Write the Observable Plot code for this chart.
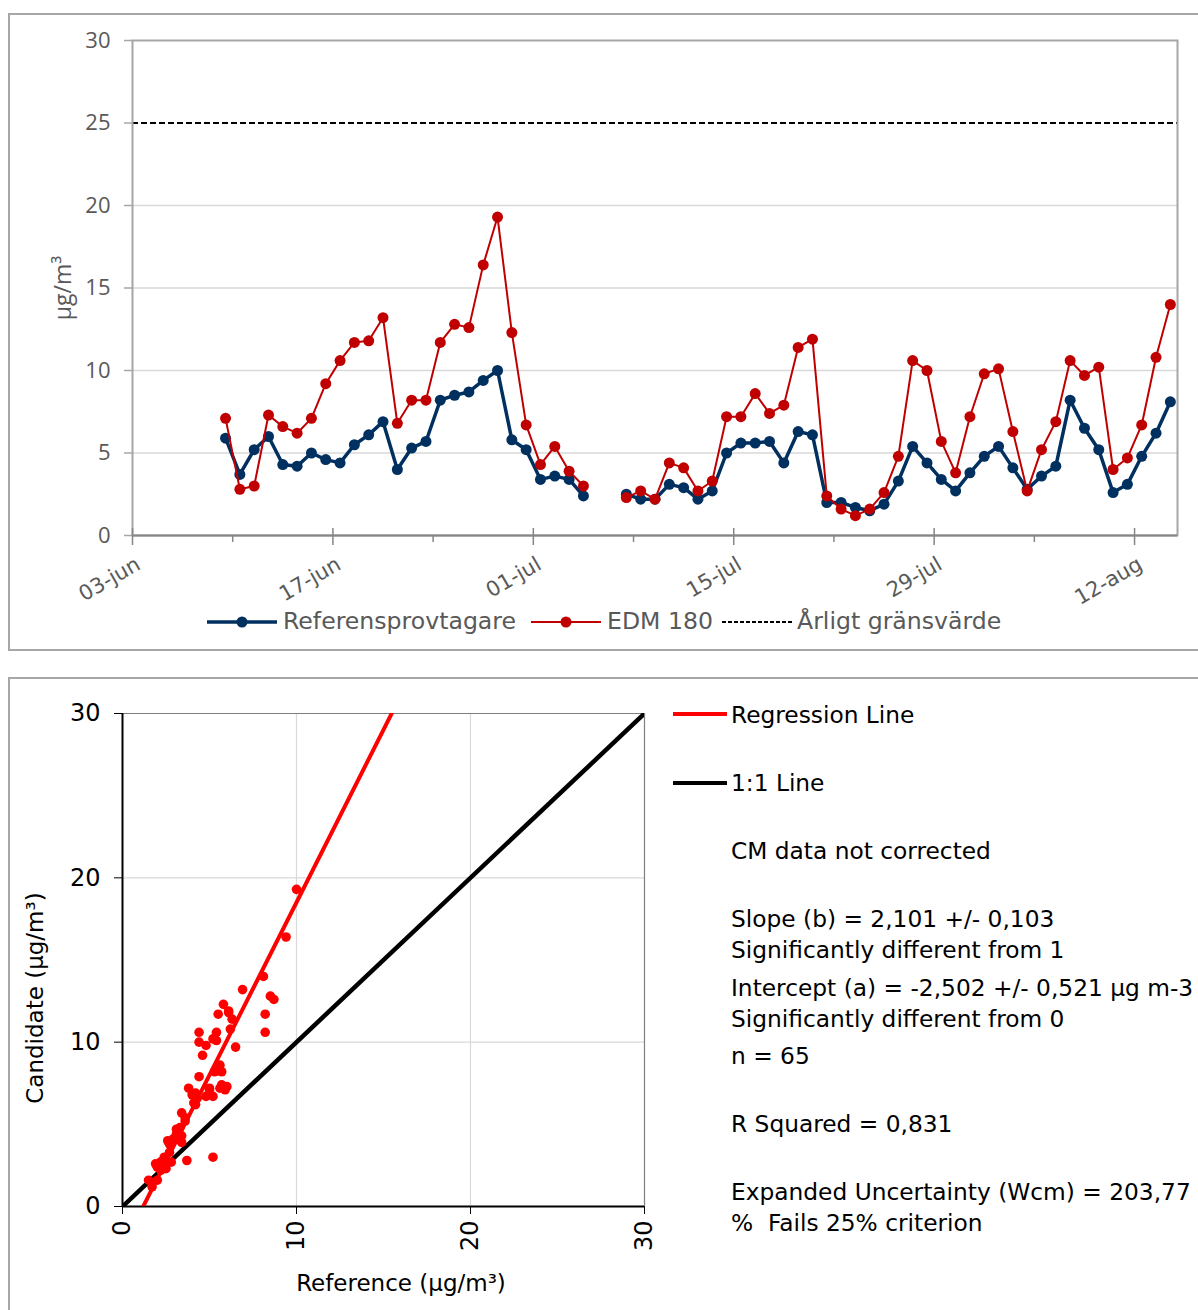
<!DOCTYPE html>
<html><head><meta charset="utf-8">
<script src="https://cdn.jsdelivr.net/npm/d3@7"></script>
<script src="https://cdn.jsdelivr.net/npm/@observablehq/plot@0.6"></script>
<style>
body{margin:0;background:#fff;}
#wrap{position:relative;width:1198px;height:1310px;overflow:hidden;background:#fff;}
.frame{position:absolute;border:2px solid #a6a6a6;box-sizing:border-box;}
.abs{position:absolute;white-space:pre;line-height:1;}
svg.sw{position:absolute;overflow:visible;}
</style></head><body><div id="wrap"></div>
<script>
// ---------- DATA ----------
const dates = [
 "2019-06-09","2019-06-10","2019-06-11","2019-06-12","2019-06-13","2019-06-14","2019-06-15","2019-06-16","2019-06-17","2019-06-18",
 "2019-06-19","2019-06-20","2019-06-21","2019-06-22","2019-06-23","2019-06-24","2019-06-25","2019-06-26","2019-06-27","2019-06-28",
 "2019-06-29","2019-06-30","2019-07-01","2019-07-02","2019-07-03","2019-07-04",
 "2019-07-07","2019-07-08","2019-07-09","2019-07-10","2019-07-11","2019-07-12","2019-07-13","2019-07-14","2019-07-15","2019-07-16",
 "2019-07-17","2019-07-18","2019-07-19","2019-07-20","2019-07-21","2019-07-22","2019-07-23","2019-07-24","2019-07-25","2019-07-26",
 "2019-07-27","2019-07-28","2019-07-29","2019-07-30","2019-07-31","2019-08-01","2019-08-02","2019-08-03","2019-08-04","2019-08-05",
 "2019-08-06","2019-08-07","2019-08-08","2019-08-09","2019-08-10","2019-08-11","2019-08-12","2019-08-13","2019-08-14"
];
const referens = [
 5.9,3.7,5.2,6.0,4.3,4.2,5.0,4.6,4.4,5.5,6.1,6.9,4.0,5.3,5.7,8.2,8.5,8.7,9.4,10.0,5.8,5.2,3.4,3.6,3.4,2.4,
 2.5,2.2,2.2,3.1,2.9,2.2,2.7,5.0,5.6,5.6,5.7,4.4,6.3,6.1,2.0,2.0,1.7,1.5,1.9,3.3,5.4,4.4,3.4,2.7,3.8,4.8,5.4,4.1,2.8,3.6,4.2,8.2,6.5,5.2,2.6,3.1,4.8,6.2,8.1
];
const edm180 = [
 7.1,2.8,3.0,7.3,6.6,6.2,7.1,9.2,10.6,11.7,11.8,13.2,6.8,8.2,8.2,11.7,12.8,12.6,16.4,19.3,12.3,6.7,4.3,5.4,3.9,3.0,
 2.3,2.7,2.2,4.4,4.1,2.7,3.3,7.2,7.2,8.6,7.4,7.9,11.4,11.9,2.4,1.6,1.2,1.6,2.6,4.8,10.6,10.0,5.7,3.8,7.2,9.8,10.1,6.3,2.7,5.2,6.9,10.6,9.7,10.2,4.0,4.7,6.7,10.8,14.0
];
const limitValue = 25;
const axisStart = "2019-06-03", axisEnd = "2019-08-15";
const majorTickDates = ["2019-06-03","2019-06-17","2019-07-01","2019-07-15","2019-07-29","2019-08-12"];
const majorTickLabels = ["03-jun","17-jun","01-jul","15-jul","29-jul","12-aug"];
const minorTickDates = ["2019-06-10","2019-06-24","2019-07-08","2019-07-22","2019-08-05"];
const yTicksTop = [0,5,10,15,20,25,30];
const gridTop = [5,10,15,20];
const seriesNames = ["Referensprovtagare","EDM 180","Årligt gränsvärde"];
const yLabelTop = "µg/m³";

const slope = 2.101, intercept = -2.502;
const scatterTicks = [0,10,20,30];
const scatterGrid = [10,20];
const scatterMax = 30;
const scatterLegend = ["Regression Line","1:1 Line"];
const statsLines = [
 "CM data not corrected",
 "Slope (b) = 2,101 +/- 0,103",
 "Significantly different from 1",
 "Intercept (a) = -2,502 +/- 0,521 µg m-3",
 "Significantly different from 0",
 "n = 65",
 "R Squared = 0,831",
 "Expanded Uncertainty (Wcm) = 203,77",
 "%  Fails 25% criterion"
];
const xLabelBottom = "Reference (µg/m³)", yLabelBottom = "Candidate (µg/m³)";

// ---------- BUILD ----------
const BLUE = "#00305f", RED = "#c00000", GREY_TXT = "#595959";
const parse = d3.utcParse("%Y-%m-%d");
const rows = dates.map((d,i)=>({date: new Date(parse(d).getTime()+12*3600e3), ref: referens[i], edm: edm180[i]}));
let seg = 0;
rows.forEach((r,i)=>{ if(i>0 && (r.date - rows[i-1].date) > 1.5*864e5) seg++; r.seg = seg; });
const majorTicks = majorTickDates.map(parse);
const minorTicks = minorTickDates.map(parse);
const labelMap = new Map(majorTicks.map((d,i)=>[+d, majorTickLabels[i]]));

const wrap = document.getElementById("wrap");
function addDiv(cls, css, text){ const e=document.createElement("div"); e.className=cls; Object.assign(e.style, css); if(text!=null) e.textContent=text; wrap.appendChild(e); return e; }

// frames
addDiv("frame", {left:"8px", top:"13px", width:"1200px", height:"638px"});
addDiv("frame", {left:"8px", top:"677px", width:"1200px", height:"700px"});

const topChart = Plot.plot({
  width: 1198, height: 610,
  marginLeft: 132, marginRight: 21, marginTop: 40, marginBottom: 75,
  style: {fontFamily: "DejaVu Sans", background: "transparent", overflow: "visible"},
  x: {type: "utc", domain: [parse(axisStart), parse(axisEnd)]},
  y: {domain: [0, 30]},
  marks: [
    Plot.ruleY(gridTop, {stroke: "#d9d9d9", strokeWidth: 1.5}),
    Plot.ruleY([limitValue], {stroke: "#000", strokeWidth: 2.2, strokeDasharray: "6,3"}),
    Plot.frame({stroke: "#a6a6a6", strokeWidth: 2}),
    Plot.axisY({ticks: yTicksTop, tickSize: 8, tickPadding: 14, fontSize: 22, fill: GREY_TXT, stroke: "#a6a6a6", strokeWidth: 1.5, fontFamily: "Open Sans", label: null}),
    Plot.axisX({ticks: majorTicks, tickFormat: d => labelMap.get(+d), tickRotate: -30, tickSize: 0, tickPadding: 24, dx: 6, dy: 3, fontSize: 21, fill: GREY_TXT, label: null}),
    Plot.axisX({ticks: majorTicks, tickFormat: () => "", tickSize: 10, stroke: "#868686", strokeWidth: 1.5, label: null}),
    Plot.axisX({ticks: majorTicks, tickFormat: () => "", tickSize: -7, stroke: "#868686", strokeWidth: 1.5, label: null}),
    Plot.axisX({ticks: minorTicks, tickFormat: () => "", tickSize: 7, stroke: "#868686", strokeWidth: 1.5, label: null}),
    Plot.ruleY([0], {stroke: "#868686", strokeWidth: 2}),
    Plot.line(rows, {x: "date", y: "ref", z: "seg", stroke: BLUE, strokeWidth: 3.5}),
    Plot.dot(rows, {x: "date", y: "ref", r: 5.5, fill: BLUE}),
    Plot.line(rows, {x: "date", y: "edm", z: "seg", stroke: RED, strokeWidth: 2}),
    Plot.dot(rows, {x: "date", y: "edm", r: 5.5, fill: RED})
  ]
});
Object.assign(topChart.style, {position: "absolute", left: "0px", top: "0px"});
wrap.appendChild(topChart);

// top y label
addDiv("abs", {left:"62px", top:"288px", transform:"translate(-50%,-50%) rotate(-90deg)", fontFamily:"Open Sans", fontSize:"23px", color:GREY_TXT}, yLabelTop);

// top legend
function swatch(x1, x2, y, color, width, dash, dot){
  const ns="http://www.w3.org/2000/svg";
  const s=document.createElementNS(ns,"svg"); s.setAttribute("class","sw");
  s.setAttribute("width", x2-x1+12); s.setAttribute("height", 20);
  s.style.left=(x1-6)+"px"; s.style.top=(y-10)+"px";
  const l=document.createElementNS(ns,"line");
  l.setAttribute("x1",6); l.setAttribute("x2",x2-x1+6); l.setAttribute("y1",10); l.setAttribute("y2",10);
  l.setAttribute("stroke",color); l.setAttribute("stroke-width",width);
  if(dash) l.setAttribute("stroke-dasharray",dash);
  s.appendChild(l);
  if(dot){ const c=document.createElementNS(ns,"circle"); c.setAttribute("cx",(x2-x1)/2+6); c.setAttribute("cy",10); c.setAttribute("r",5.5); c.setAttribute("fill",color); s.appendChild(c); }
  wrap.appendChild(s);
}
const legY = 622;
swatch(207, 277, legY, BLUE, 3.5, null, true);
swatch(531, 601, legY, RED, 2, null, true);
swatch(722, 792, legY, "#000", 2, "4,2", false);
[[283, seriesNames[0]],[607, seriesNames[1]],[797, seriesNames[2]]].forEach(([x,t])=>{
  addDiv("abs", {left:x+"px", top:legY+"px", transform:"translateY(-50%)", fontFamily:"DejaVu Sans", fontSize:"23.6px", color:GREY_TXT}, t);
});

// ---------- scatter ----------
const one2one = [0, scatterMax].map(v => ({x: v, y: v}));
const regLine = [0, scatterMax].map(v => ({x: v, y: intercept + slope * v}));
const bottomChart = Plot.plot({
  width: 700, height: 632,
  marginLeft: 122, marginRight: 56, marginTop: 35, marginBottom: 104,
  style: {fontFamily: "DejaVu Sans", background: "transparent", overflow: "visible"},
  x: {domain: [0, scatterMax]},
  y: {domain: [0, scatterMax]},
  marks: [
    Plot.ruleX(scatterGrid, {stroke: "#d9d9d9", strokeWidth: 1.2}),
    Plot.ruleY(scatterGrid, {stroke: "#d9d9d9", strokeWidth: 1.2}),
    Plot.ruleX([scatterMax], {stroke: "#7f7f7f", strokeWidth: 1.2}),
    Plot.ruleY([scatterMax], {stroke: "#7f7f7f", strokeWidth: 1.2}),
    Plot.axisY({ticks: scatterTicks, tickSize: 8, tickPadding: 14, fontSize: 24, fill: "#000", stroke: "#000", label: null}),
    Plot.axisX({ticks: scatterTicks, tickSize: 8, tickPadding: 6, tickRotate: -90, fontSize: 24, fill: "#000", stroke: "#000", label: null}),
    Plot.ruleX([0], {stroke: "#000", strokeWidth: 2}),
    Plot.ruleY([0], {stroke: "#000", strokeWidth: 2}),
    Plot.line(one2one, {x: "x", y: "y", stroke: "#000", strokeWidth: 4.5, clip: true}),
    Plot.dot(rows, {x: "ref", y: "edm", r: 4.8, fill: "#ff0000"}),
    Plot.line(regLine, {x: "x", y: "y", stroke: "#ff0000", strokeWidth: 4, clip: true})
  ]
});
Object.assign(bottomChart.style, {position: "absolute", left: "0px", top: "678px"});
wrap.appendChild(bottomChart);

addDiv("abs", {left:"35px", top:"998px", transform:"translate(-50%,-50%) rotate(-90deg)", fontFamily:"DejaVu Sans", fontSize:"23px", color:"#000"}, yLabelBottom);
addDiv("abs", {left:"401px", top:"1283px", transform:"translate(-50%,-50%)", fontFamily:"DejaVu Sans", fontSize:"23px", color:"#000"}, xLabelBottom);

// scatter legend + stats
swatch(673, 727, 714, "#ff0000", 4, null, false);
swatch(673, 727, 783, "#000", 4, null, false);
const TX = 731, FS = "23.3px";
addDiv("abs", {left:TX+"px", top:"715px", transform:"translateY(-50%)", fontFamily:"DejaVu Sans", fontSize:FS, color:"#000"}, scatterLegend[0]);
addDiv("abs", {left:TX+"px", top:"783px", transform:"translateY(-50%)", fontFamily:"DejaVu Sans", fontSize:FS, color:"#000"}, scatterLegend[1]);
const statY = [851, 919, 950, 988, 1019, 1056, 1124, 1192, 1223];
statsLines.forEach((t,i)=>{
  addDiv("abs", {left:TX+"px", top:statY[i]+"px", transform:"translateY(-50%)", fontFamily:"DejaVu Sans", fontSize:FS, color:"#000"}, t);
});
</script></body></html>
